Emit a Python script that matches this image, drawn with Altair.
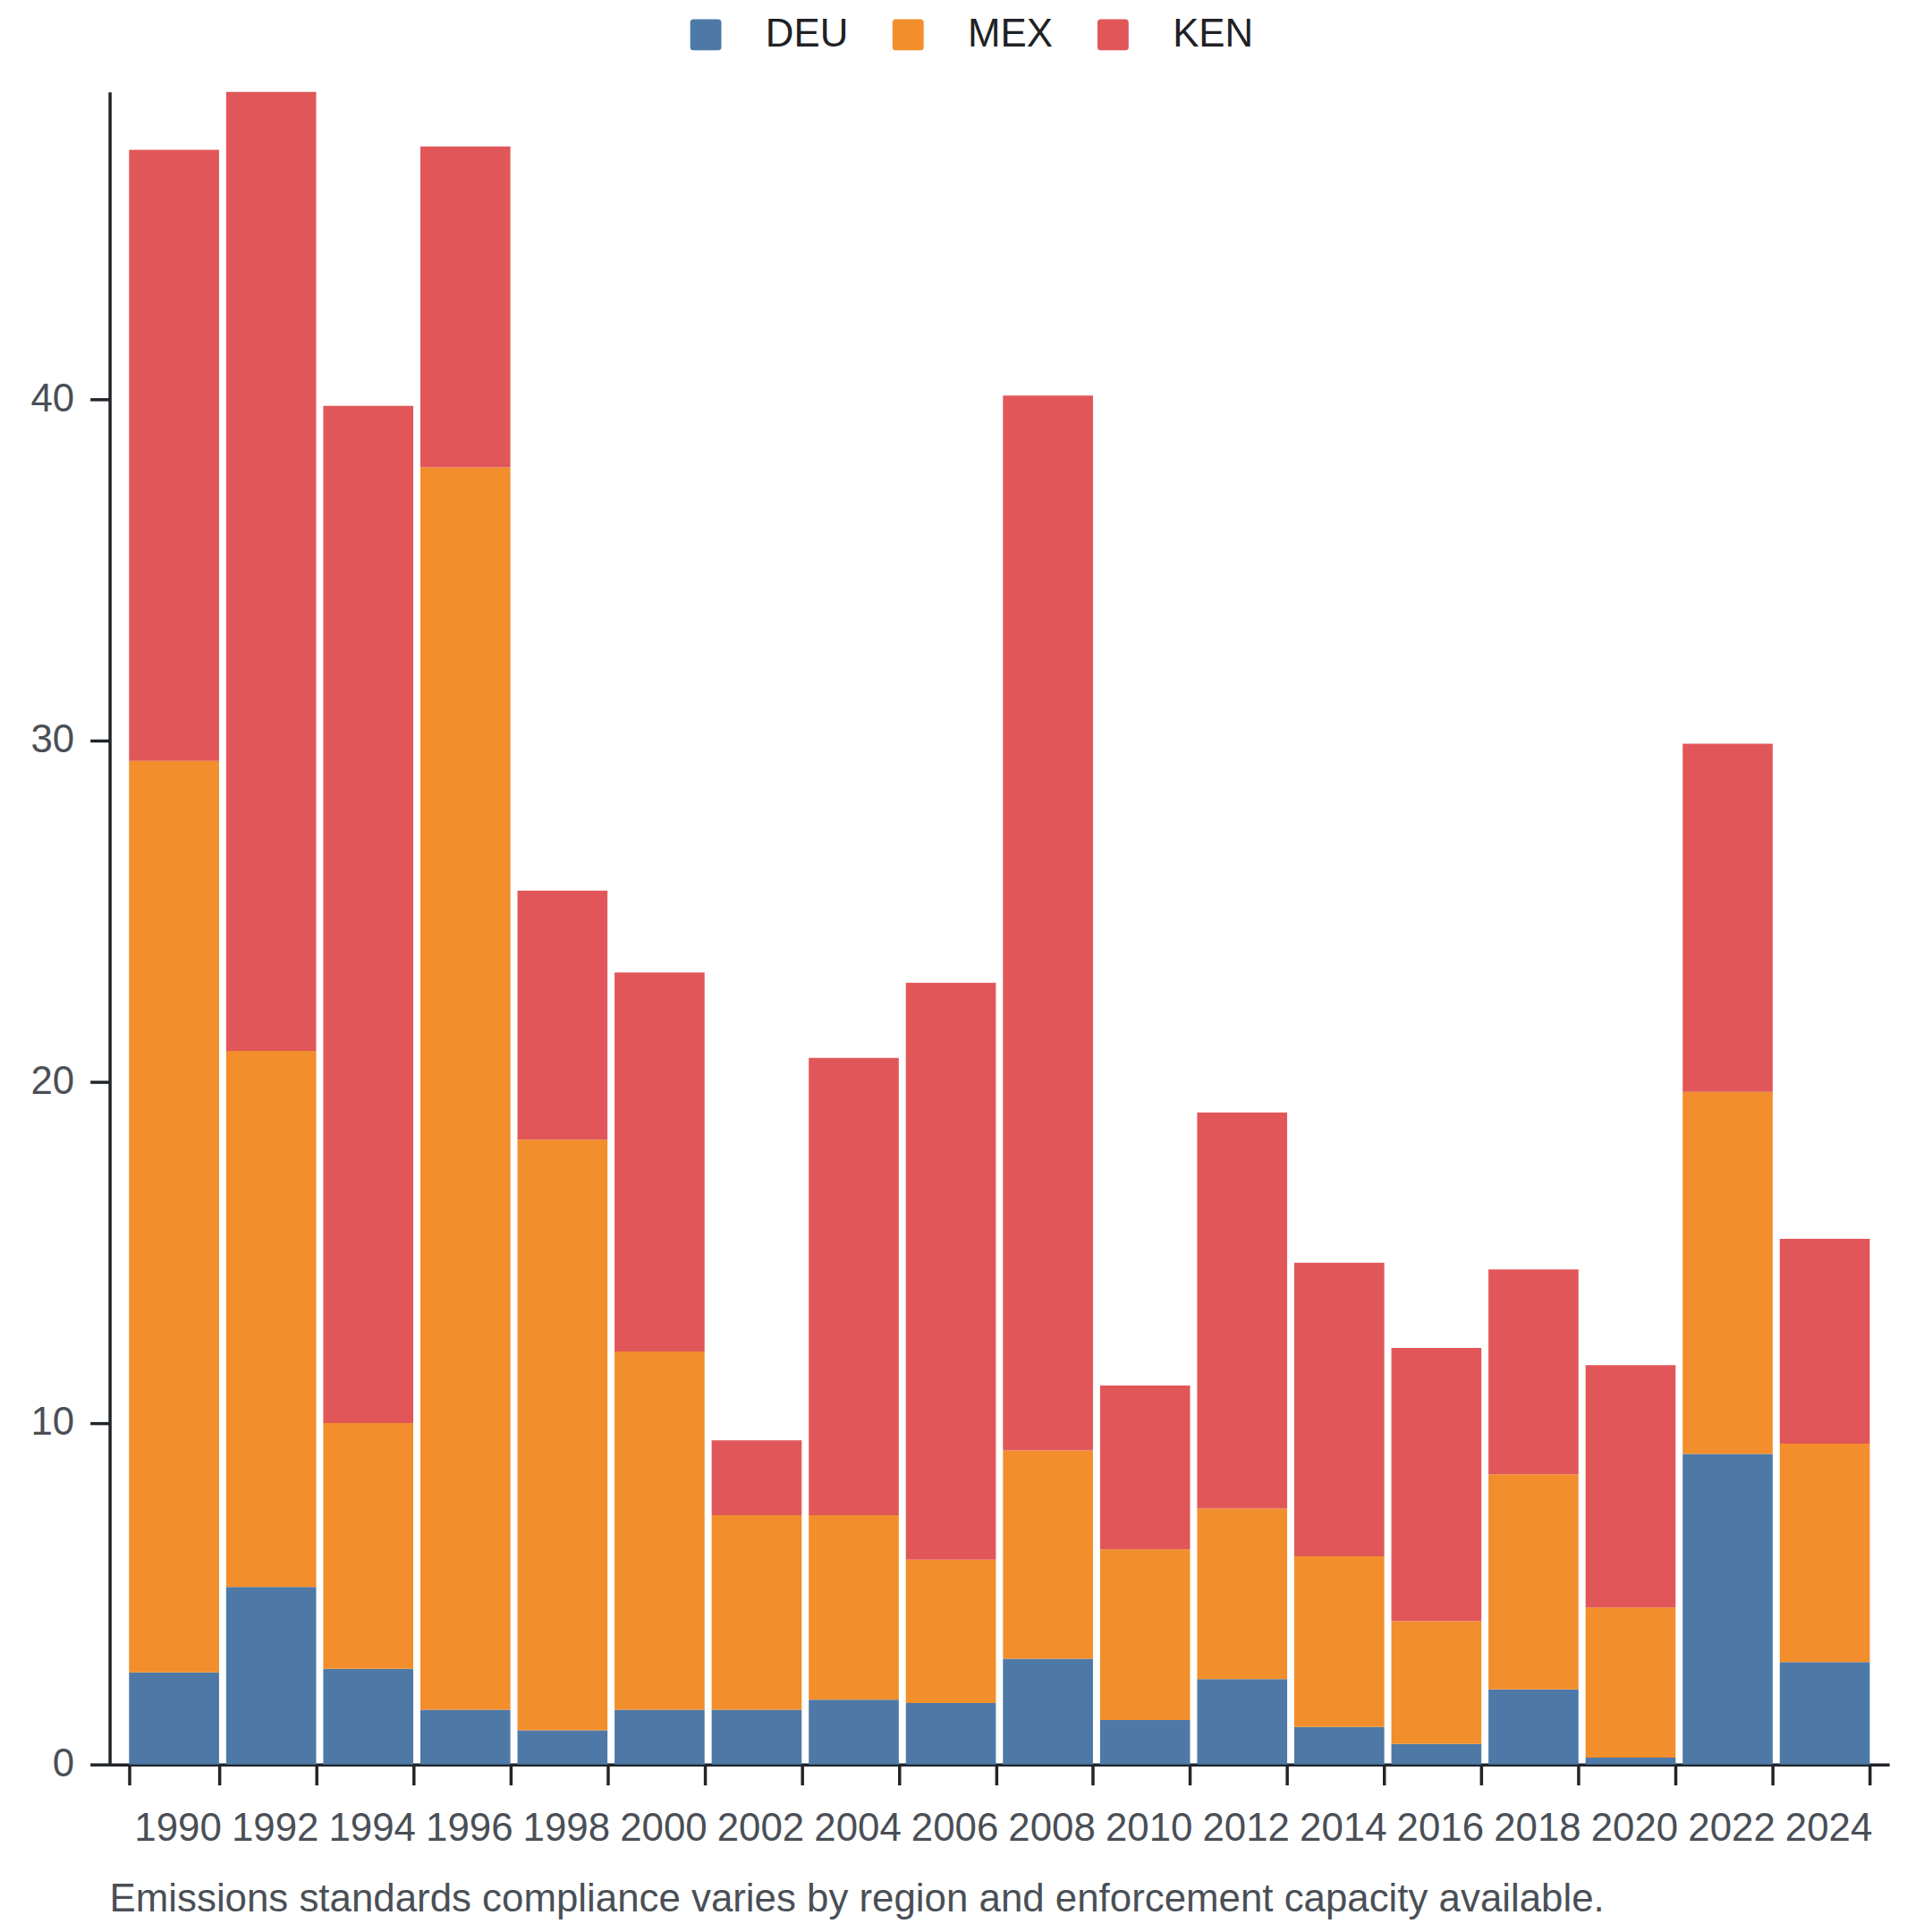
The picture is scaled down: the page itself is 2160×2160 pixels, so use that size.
import altair as alt
import pandas as pd

years = ["1990", "1992", "1994", "1996", "1998", "2000", "2002", "2004", "2006",
         "2008", "2010", "2012", "2014", "2016", "2018", "2020", "2022", "2024"]
countries = ["DEU", "MEX", "KEN"]
colors = ["#4e79a7", "#f28e2b", "#e15759"]

deu = [2.7, 5.2, 2.8, 1.6, 1.0, 1.6, 1.6, 1.9, 1.8, 3.1, 1.3, 2.5, 1.1, 0.6, 2.2, 0.2, 9.1, 3.0]
mex = [26.7, 15.7, 7.2, 36.4, 17.3, 10.5, 5.7, 5.4, 4.2, 6.1, 5.0, 5.0, 5.0, 3.6, 6.3, 4.4, 10.6, 6.4]
ken = [17.9, 28.1, 29.8, 9.4, 7.3, 11.1, 2.2, 13.4, 16.9, 30.9, 4.8, 11.6, 8.6, 8.0, 6.0, 7.1, 10.2, 6.0]

y_ticks = [0, 10, 20, 30, 40]
caption = "Emissions standards compliance varies by region and enforcement capacity available."

rows = []
for ci, (name, series) in enumerate(zip(countries, [deu, mex, ken])):
    for yr, v in zip(years, series):
        rows.append({"year": yr, "country": name, "value": v, "idx": ci})
df = pd.DataFrame(rows)

FONT = "Liberation Sans"
LABEL = "#4a4f56"
AXIS = "#212429"
FS = 44

rounded_square = ("M-0.78,-1 L0.78,-1 Q1,-1 1,-0.78 L1,0.78 Q1,1 0.78,1 "
                  "L-0.78,1 Q-1,1 -1,0.78 L-1,-0.78 Q-1,-1 -0.78,-1 Z")

chart = alt.Chart(df).mark_bar().encode(
    x=alt.X("year:O", sort=years,
            scale=alt.Scale(paddingInner=0.073, paddingOuter=0.2),
            axis=alt.Axis(title=None, labelAngle=0, tickBand="extent",
                          tickOffset=-4, labelOffset=4,
                          tickSize=23, tickWidth=3.5, tickColor=AXIS,
                          domainWidth=3.5, domainColor=AXIS,
                          labelColor=LABEL, labelFont=FONT, labelFontSize=FS,
                          labelPadding=27, grid=False)),
    y=alt.Y("value:Q", stack="zero",
            scale=alt.Scale(nice=False, zero=True),
            axis=alt.Axis(title=None, values=y_ticks, grid=False,
                          tickSize=22, tickWidth=3.5, tickColor=AXIS,
                          domainWidth=3.5, domainColor=AXIS,
                          labelColor=LABEL, labelFont=FONT, labelFontSize=FS,
                          labelPadding=18)),
    color=alt.Color("country:N",
                    scale=alt.Scale(domain=countries, range=colors),
                    legend=alt.Legend(title=None, orient="none", direction="horizontal",
                                      legendX=647, legendY=-86, padding=0,
                                      symbolType=rounded_square, symbolSize=1225,
                                      symbolStrokeWidth=0, symbolOpacity=1,
                                      labelFont=FONT, labelFontSize=FS,
                                      labelColor="#1f2125", labelOffset=45,
                                      columnPadding=45)),
    order=alt.Order("idx:Q", sort="ascending"),
).properties(
    width=1997,
    height=1877,
    padding={"left": 115, "top": 91, "right": 40, "bottom": 184},
    autosize=alt.AutoSizeParams(type="none"),
    title=alt.TitleParams(caption, orient="bottom", anchor="start", frame="group",
                          font=FONT, fontSize=FS, fontWeight="normal",
                          color=LABEL, offset=36),
).configure_view(stroke=None)

chart.save("out.html", embed_options={"renderer": "svg", "actions": False})
